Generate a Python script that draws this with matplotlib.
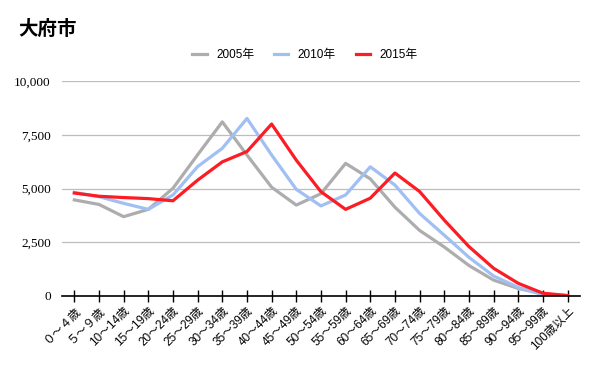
import matplotlib.pyplot as plt
from matplotlib.ticker import FuncFormatter

plt.rcParams['font.family'] = ['Liberation Sans', 'Noto Sans CJK JP']

ages = ['０～４歳', '５～９歳', '10～14歳', '15～19歳', '20～24歳', '25～29歳',
        '30～34歳', '35～39歳', '40～44歳', '45～49歳', '50～54歳', '55～59歳',
        '60～64歳', '65～69歳', '70～74歳', '75～79歳', '80～84歳', '85～89歳',
        '90～94歳', '95～99歳', '100歳以上']
y2005 = [4470, 4260, 3690, 4030, 5010, 6570, 8100, 6560, 5060, 4230, 4760,
         6170, 5450, 4130, 3050, 2280, 1420, 740, 350, 100, 20]
y2010 = [4820, 4620, 4310, 4030, 4700, 6020, 6870, 8260, 6560, 4960, 4190,
         4700, 6010, 5160, 3840, 2830, 1800, 930, 400, 60, 10]
y2015 = [4790, 4640, 4580, 4530, 4430, 5390, 6240, 6720, 8000, 6320, 4850,
         4030, 4550, 5720, 4860, 3530, 2300, 1290, 590, 130, 20]

fig = plt.figure(figsize=(5.96, 3.70), dpi=100)
ax = fig.add_axes([0.104, 0.2, 0.869, 0.581])

x = range(len(ages))
ax.plot(x, y2005, color='#adadad', lw=2.3, label='2005年')
ax.plot(x, y2010, color='#a0bff3', lw=2.3, label='2010年')
ax.plot(x, y2015, color='#fc1c24', lw=2.3, label='2015年')

ax.set_xlim(-0.5, len(ages) - 0.5)
ax.set_ylim(0, 10000)
ax.set_yticks([0, 2500, 5000, 7500, 10000])
ax.yaxis.set_major_formatter(FuncFormatter(lambda v, p: f'{int(v):,}'))
ax.grid(axis='y', color='#bdbdbd', lw=0.9)
ax.set_axisbelow(True)
for s in ['top', 'right', 'left']:
    ax.spines[s].set_visible(False)
ax.spines['bottom'].set_color('black')
ax.spines['bottom'].set_linewidth(1.2)
ax.tick_params(axis='y', length=0, pad=8)
for lab in ax.get_yticklabels():
    lab.set_family('Liberation Serif')
    lab.set_fontsize(9.5)
ax.set_xticks(list(x))
ax.set_xticklabels(ages, rotation=45, ha='right', va='top',
                   rotation_mode='anchor', fontsize=8.5)
ax.tick_params(axis='x', direction='inout', length=9, width=1, pad=2)

fig.text(0.03, 0.905, '大府市', fontsize=14, fontweight='bold',
         family=['Noto Sans CJK JP'])
fig.legend(loc='center', bbox_to_anchor=(0.512, 0.851), ncol=3, frameon=False,
           fontsize=8.5, handlelength=1.2, columnspacing=1.7, handletextpad=0.8)

fig.savefig('out.png', dpi=100)
